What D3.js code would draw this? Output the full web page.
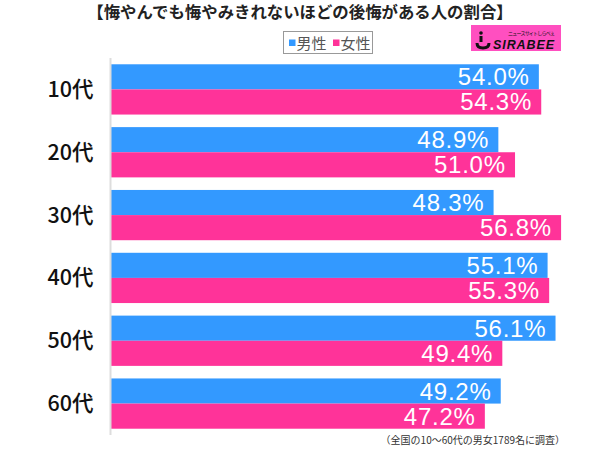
<!DOCTYPE html>
<html><head><meta charset="utf-8">
<script src="https://cdn.jsdelivr.net/npm/d3@7"></script>
<style>body{margin:0;background:#fff;}svg{display:block;}</style>
</head><body>
<svg id="c" width="600" height="449"></svg>
<script>
const title = "【悔やんでも悔やみきれないほどの後悔がある人の割合】";
const categories = ["10代","20代","30代","40代","50代","60代"];
const seriesNames = ["男性","女性"];
const maleValues = [54.0, 48.9, 48.3, 55.1, 56.1, 49.2];
const femaleValues = [54.3, 51.0, 56.8, 55.3, 49.4, 47.2];
const colors = ["#3399ff","#ff3399"];
const note = "（全国の10～60代の男女1789名に調査）";

const svg = d3.select("#c");
const jp = "'Noto Sans CJK JP','Noto Sans',sans-serif";

svg.append("text").attr("x",300).attr("y",18).attr("text-anchor","middle")
  .attr("font-family",jp).attr("font-weight","bold").attr("font-size",16.4)
  .attr("fill","#222").text(title);

// legend
const lg = svg.append("g");
lg.append("rect").attr("x",283.5).attr("y",31.5).attr("width",89).attr("height",22)
  .attr("fill","#fff").attr("stroke","#999");
const legX = [289, 333];
seriesNames.forEach((s,i)=>{
  lg.append("rect").attr("x",legX[i]).attr("y",39.5).attr("width",6.5).attr("height",6.5).attr("fill",colors[i]);
  lg.append("text").attr("x",legX[i]+7.5).attr("y",48.5).attr("font-family",jp)
    .attr("font-size",15).attr("fill","#555").text(s);
});

// logo
const logo = svg.append("g");
logo.append("rect").attr("x",471).attr("y",25).attr("width",90).attr("height",26).attr("fill","#ff4fc0");
logo.append("text").attr("x",493).attr("y",49).attr("font-family","'Liberation Sans',Arial,sans-serif")
  .attr("font-weight","bold").attr("font-style","italic").attr("font-size",12.5)
  .attr("textLength",61).attr("fill","#111").text("SIRABEE");
logo.append("text").attr("x",508).attr("y",35).attr("font-family",jp)
  .attr("font-size",5).attr("fill","#111").attr("textLength",47).text("ニュースサイトしらべぇ");
logo.append("circle").attr("cx",481).attr("cy",33).attr("r",1.8).attr("fill","#111");
logo.append("path").attr("d","M481,36 L481,42 M477,43 Q477,48 483,48 Q489,48 489,43")
  .attr("stroke","#111").attr("stroke-width",3).attr("fill","none");

// scales
const y = d3.scaleBand().domain(categories).range([58,435]).paddingInner(0.2).paddingOuter(0.1);
const x = d3.scaleLinear().domain([0,60]).range([110,586.5]);
const sub = d3.scaleBand().domain(seriesNames).range([0,y.bandwidth()]);

const rows = svg.append("g").selectAll("g").data(categories).join("g")
  .attr("transform",d=>`translate(0,${y(d)})`);
const vals = [maleValues, femaleValues];
rows.each(function(c,ci){
  const g = d3.select(this);
  seriesNames.forEach((s,si)=>{
    const v = vals[si][ci];
    g.append("rect").attr("x",x(0)).attr("y",sub(s)).attr("width",x(v)-x(0))
      .attr("height",sub.bandwidth()).attr("fill",colors[si]);
    g.append("text").attr("x",x(v)-10).attr("y",sub(s)+sub.bandwidth()/2+8.5)
      .attr("text-anchor","end").attr("font-family","'Liberation Sans',Arial,sans-serif")
      .attr("font-size",24).attr("textLength",71).attr("fill","#fff").text(v.toFixed(1)+"%");
  });
});

// y axis
const yAxis = d3.axisLeft(y).tickSize(0).tickPadding(17);
const ag = svg.append("g").attr("transform","translate(110.5,0)").call(yAxis);
ag.select(".domain").attr("stroke","#ddd").attr("stroke-width",2).attr("d","M0,58V435");
ag.selectAll("text").attr("font-family",jp).attr("font-size",21.5).attr("font-weight",500)
  .attr("fill","#111").attr("dy","0.35em");

svg.append("text").attr("x",565).attr("y",444).attr("text-anchor","end")
  .attr("font-family",jp).attr("font-size",10).attr("fill","#333").text(note);
</script>
</body></html>
